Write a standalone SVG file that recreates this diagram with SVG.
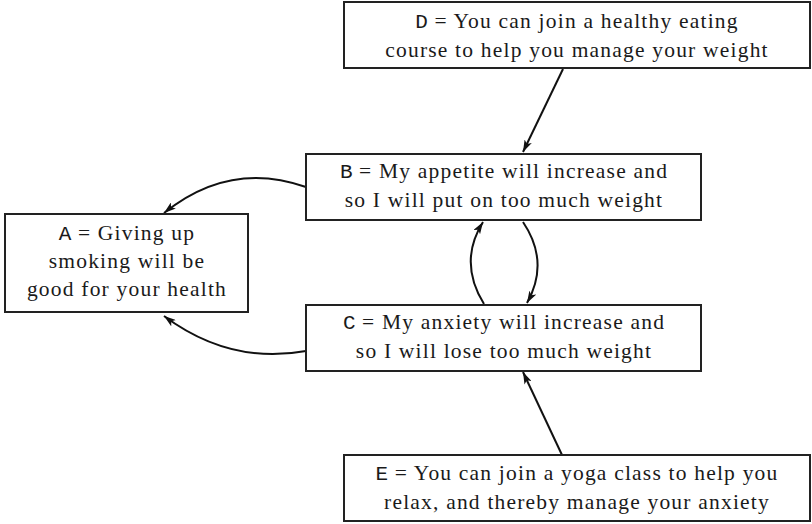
<svg xmlns="http://www.w3.org/2000/svg" width="812" height="524" viewBox="0 0 812 524">
<defs>
<style>
.box{fill:#fff;stroke:#222;stroke-width:2}
.t{font-family:"Liberation Serif","Times New Roman",serif;font-size:21.5px;letter-spacing:1.2px;fill:#1a1a1a;text-anchor:middle}
.m{font-family:"Liberation Mono","DejaVu Sans Mono",monospace;font-size:21px;letter-spacing:0}
.c{fill:none;stroke:#111;stroke-width:2}
</style>
<marker id="ah" viewBox="0 0 12 8" refX="12" refY="4" markerWidth="12" markerHeight="8" markerUnits="userSpaceOnUse" orient="auto">
<path d="M0,0 L12,4 L0,8 L3,4 Z" fill="#111"/>
</marker>
</defs>
<rect width="812" height="524" fill="#fff"/>
<g id="connectors">
<path class="c" d="M563,69 L523,152" marker-end="url(#ah)"/>
<path class="c" d="M306,187 Q230,160 164,213" marker-end="url(#ah)"/>
<path class="c" d="M306,351 Q230,365 164,316" marker-end="url(#ah)"/>
<path class="c" d="M484,304 Q458,262 483,222" marker-end="url(#ah)"/>
<path class="c" d="M523,222 Q550,262 527,303" marker-end="url(#ah)"/>
<path class="c" d="M562,455 L523,372" marker-end="url(#ah)"/>
</g>
<g id="D">
<rect class="box" x="344" y="2" width="466" height="66"/>
<text class="t" x="577" y="28"><tspan class="m">D</tspan> = You can join a healthy eating</text>
<text class="t" x="577" y="57">course to help you manage your weight</text>
</g>
<g id="B">
<rect class="box" x="306" y="154" width="395" height="66"/>
<text class="t" x="504" y="178"><tspan class="m">B</tspan> = My appetite will increase and</text>
<text class="t" x="504" y="207">so I will put on too much weight</text>
</g>
<g id="A">
<rect class="box" x="5" y="214" width="243" height="98"/>
<text class="t" x="127" y="240"><tspan class="m">A</tspan> = Giving up</text>
<text class="t" x="127" y="268">smoking will be</text>
<text class="t" x="127" y="296">good for your health</text>
</g>
<g id="C">
<rect class="box" x="306" y="305" width="395" height="66"/>
<text class="t" x="504" y="329"><tspan class="m">C</tspan> = My anxiety will increase and</text>
<text class="t" x="504" y="358">so I will lose too much weight</text>
</g>
<g id="E">
<rect class="box" x="344" y="455" width="466" height="66"/>
<text class="t" x="577" y="480"><tspan class="m">E</tspan> = You can join a yoga class to help you</text>
<text class="t" x="577" y="509">relax, and thereby manage your anxiety</text>
</g>
</svg>
